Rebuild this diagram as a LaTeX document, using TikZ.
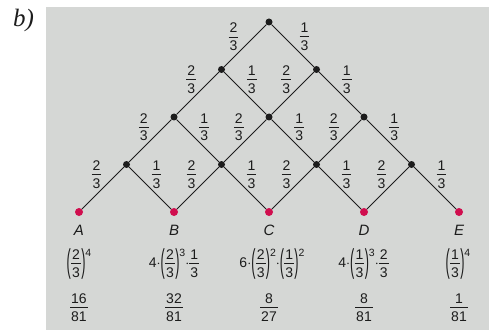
\documentclass[tikz,border=0pt]{standalone}
\usepackage{amsmath}
\usepackage{graphicx}
\usepackage{fontspec}
\setmainfont{Liberation Sans}
\newfontfamily\serifit{Liberation Serif}
\definecolor{bg}{RGB}{213,215,213}
\definecolor{leafred}{RGB}{208,14,78}
\definecolor{ink}{RGB}{28,28,28}
\newcommand\fr[2]{\ensuremath{\vcenter{\offinterlineskip
  \setbox0\hbox{#1}\setbox2\hbox{#2}%
  \dimen0=\wd0 \ifdim\wd2>\dimen0 \dimen0=\wd2\fi \advance\dimen0 by 2pt
  \hbox to\dimen0{\hss\box0\hss}\vskip3.6pt\hrule height0.8pt\vskip3.6pt
  \hbox to\dimen0{\hss\box2\hss}}}}
\newcommand\lp{\vcenter{\hbox{\scalebox{0.9}[2.35]{(}}}}
\newcommand\rp{\vcenter{\hbox{\scalebox{0.9}[2.35]{)}}}}
\newcommand\pw[2]{\mathord{\lp\kern0.3pt#1\kern0.3pt\rp\hbox{\raisebox{11pt}{\fontsize{10.5}{11}\selectfont #2}}}}
\newcommand\cd{\mathord{\cdot}}
\begin{document}
\begin{tikzpicture}[x=1pt,y=-1pt,
  every node/.style={text=ink,font=\fontsize{14}{16}\selectfont},
  dot/.style={circle,fill=ink,inner sep=0pt,minimum size=7pt},
  reddot/.style={circle,fill=leafred,inner sep=0pt,minimum size=8pt},
  edge/.style={draw=ink,line width=1pt},
  leaflabel/.style={font=\fontsize{15}{18}\selectfont\itshape},
  prob/.style={inner sep=0pt}]
\useasboundingbox (0,0) rectangle (489,331);
\fill[bg] (46,7) rectangle (489,330);
\node[anchor=base west,inner sep=0pt,font=\fontsize{25}{28}\selectfont\serifit\itshape,text=ink] (title) at (13,27) {b)};
% tree nodes
\foreach \k in {0,...,3}{
  \foreach \i in {0,...,\k}{
    \node[dot] (n\k\i) at ({269+(2*\i-\k)*47.5},{22+\k*47.5}) {};
  }
}
\foreach \i/\L in {0/A,1/B,2/C,3/D,4/E}{
  \node[reddot] (n4\i) at ({269+(2*\i-4)*47.5},212) {};
  \node[leaflabel] (l\L) at ({269+(2*\i-4)*47.5},230.5) {\L};
}
% edges
\foreach \k in {0,...,3}{
  \pgfmathtruncatemacro\kk{\k+1}
  \foreach \i in {0,...,\k}{
    \pgfmathtruncatemacro\ii{\i+1}
    \draw[edge] (n\k\i) -- (n\kk\i);
    \draw[edge] (n\k\i) -- (n\kk\ii);
  }
}
% edge labels
\path (n00) -- (n10) node[midway,prob,xshift=-11.75pt,yshift=8.75pt] (e0L) {\fr{2}{3}};
\path (n00) -- (n11) node[midway,prob,xshift=11.75pt,yshift=8.75pt] (e0R) {\fr{1}{3}};
\foreach \k in {1,...,3}{
  \pgfmathtruncatemacro\kk{\k+1}
  \foreach \i in {0,...,\k}{
    \pgfmathtruncatemacro\ii{\i+1}
    \path (n\k\i) -- (n\kk\i) node[midway,prob,xshift=-6.5pt,yshift=13.5pt] {\fr{2}{3}};
    \path (n\k\i) -- (n\kk\ii) node[midway,prob,xshift=6.5pt,yshift=13.5pt] {\fr{1}{3}};
  }
}
% power row
\node[prob] (pA) at (79,263.5) {$\pw{\fr{2}{3}}{4}$};
\node[prob] (pB) at (174,263.5) {$\text{4}\cd\pw{\fr{2}{3}}{3}\cd\fr{1}{3}$};
\node[prob] (pC) at (272,263.5) {$\text{6}\cd\pw{\fr{2}{3}}{2}\cd\pw{\fr{1}{3}}{2}$};
\node[prob] (pD) at (363.5,263.5) {$\text{4}\cd\pw{\fr{1}{3}}{3}\cd\fr{2}{3}$};
\node[prob] (pE) at (458,263.5) {$\pw{\fr{1}{3}}{4}$};
% results
\node[prob] (rA) at (79,307.5) {\fr{16}{81}};
\node[prob] (rB) at (174,307.5) {\fr{32}{81}};
\node[prob] (rC) at (269,307.5) {\fr{8}{27}};
\node[prob] (rD) at (364,307.5) {\fr{8}{81}};
\node[prob] (rE) at (459,307.5) {\fr{1}{81}};
\end{tikzpicture}
\end{document}
